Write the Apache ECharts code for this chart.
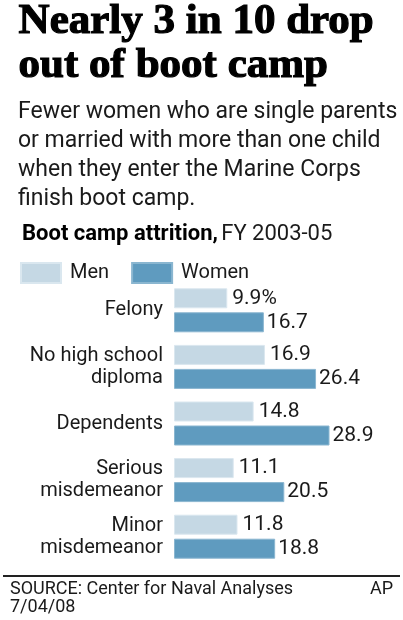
<!DOCTYPE html>
<html>
<head>
<meta charset="utf-8">
<script src="https://cdn.jsdelivr.net/npm/echarts@6/dist/echarts.min.js"></script>
<style>
  html, body { margin: 0; padding: 0; background: #fff; }
  #chart { width: 403px; height: 620px; }
</style>
</head>
<body>
<div id="chart"></div>
<script>
// categories and values (percent attrition, FY 2003-05)
var categories = ['Felony', 'No high school\ndiploma', 'Dependents', 'Serious\nmisdemeanor', 'Minor\nmisdemeanor'];
var menValues = [9.9, 16.9, 14.8, 11.1, 11.8];
var womenValues = [16.7, 26.4, 28.9, 20.5, 18.8];
var seriesNames = ['Men', 'Women'];

var sans = 'Roboto, "Liberation Sans", sans-serif';
var ink = '#1a1a1a';

var chart = echarts.init(document.getElementById('chart'));

var option = {
    backgroundColor: '#fff',
    animation: false,
    textStyle: { fontFamily: sans },
    legend: {
        data: seriesNames,
        left: 15,
        top: 257,
        itemWidth: 40,
        itemHeight: 20,
        itemGap: 22,
        icon: 'rect',
        selectedMode: false,
        textStyle: { fontSize: 20, color: ink, fontFamily: sans, padding: [0, 0, 0, 4] }
    },
    grid: { left: 174, right: 3, top: 282, bottom: 55 },
    xAxis: {
        type: 'value',
        min: 0,
        max: 42,
        show: false
    },
    yAxis: {
        type: 'category',
        inverse: true,
        data: categories,
        axisLine: { show: false },
        axisTick: { show: false },
        axisLabel: {
            margin: 11,
            fontSize: 20,
            lineHeight: 22,
            color: ink,
            fontFamily: sans
        }
    },
    series: [{
        name: seriesNames[0],
        type: 'bar',
        data: menValues,
        barWidth: 20,
        barGap: '20%',
        itemStyle: { color: '#c5d8e4', borderColor: '#dae7ef', borderWidth: 1 },
        label: {
            show: true,
            position: 'right',
            distance: 5,
            fontSize: 21,
            color: ink,
            fontFamily: sans,
            formatter: function (p) { return p.dataIndex === 0 ? p.value + '%' : p.value; }
        }
    }, {
        name: seriesNames[1],
        type: 'bar',
        data: womenValues,
        barWidth: 20,
        itemStyle: { color: '#5f9bbf', borderColor: '#8ab6d0', borderWidth: 1 },
        label: {
            show: true,
            position: 'right',
            distance: 3,
            fontSize: 21,
            color: ink,
            fontFamily: sans
        }
    }],
    graphic: [{
        type: 'text',
        left: 18,
        top: 0,
        style: {
            text: 'Nearly 3 in 10 drop\nout of boot camp',
            font: 'bold 43px "Liberation Serif", serif',
            lineHeight: 44,
            fill: '#000',
            stroke: '#000',
            lineWidth: 1.2
        }
    }, {
        type: 'text',
        left: 18,
        top: 98,
        style: {
            text: 'Fewer women who are single parents\nor married with more than one child\nwhen they enter the Marine Corps\nfinish boot camp.',
            font: '23px ' + sans,
            lineHeight: 29,
            fill: ink
        }
    }, {
        type: 'text',
        left: 22,
        top: 223,
        style: {
            rich: {
                b: { fontFamily: sans, fontWeight: 'bold', fontSize: 22, fill: '#000' },
                n: { fontFamily: sans, fontSize: 22, fill: ink }
            },
            text: '{b|Boot camp attrition,} {n|FY 2003-05}'
        }
    }, {
        type: 'rect',
        shape: { x: 3, y: 575, width: 397, height: 2 },
        style: { fill: '#222' }
    }, {
        type: 'text',
        left: 10,
        top: 580,
        style: {
            text: 'SOURCE: Center for Naval Analyses\n7/04/08',
            font: '18px ' + sans,
            lineHeight: 18,
            fill: ink
        }
    }, {
        type: 'text',
        right: 10,
        top: 580,
        style: {
            text: 'AP',
            font: '18px ' + sans,
            fill: ink
        }
    }]
};

chart.setOption(option);
</script>
</body>
</html>
